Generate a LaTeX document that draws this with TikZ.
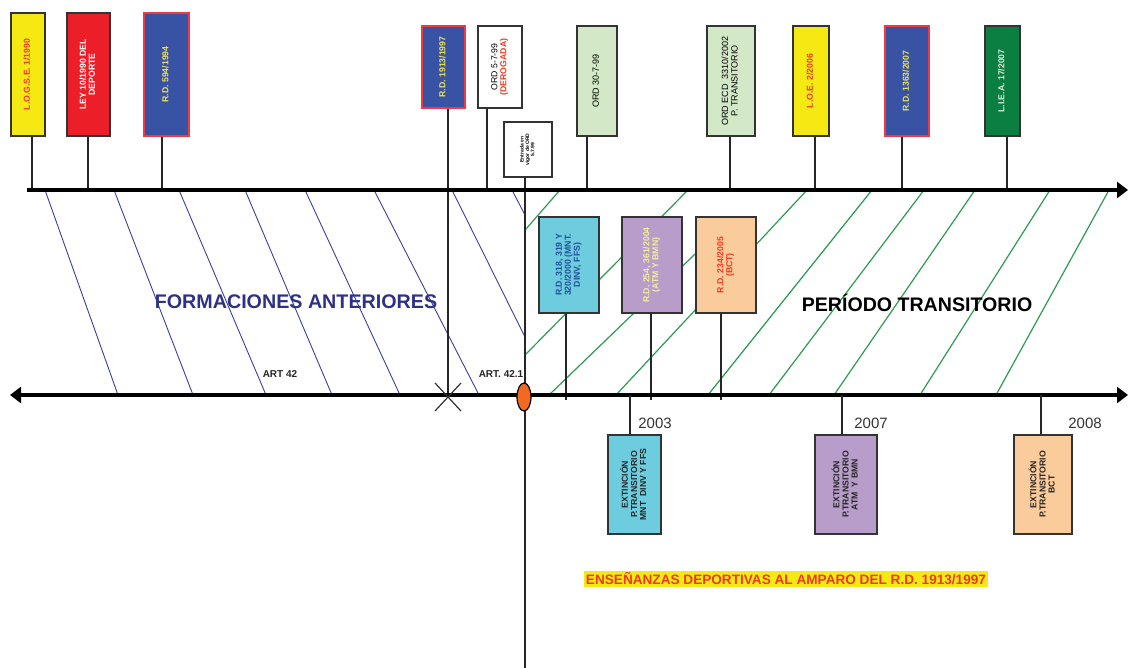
\documentclass[tikz,border=0pt]{standalone}
\usepackage{fontspec}
\setmainfont{Liberation Sans}
\usetikzlibrary{arrows.meta,calc}
\definecolor{cyel}{HTML}{F5E914}
\definecolor{cred}{HTML}{EC1F28}
\definecolor{cblue}{HTML}{3953A4}
\definecolor{cblueline}{HTML}{EE3A45}
\definecolor{cdgreen}{HTML}{0B7F41}
\definecolor{clgreen}{HTML}{D2E8C7}
\definecolor{ccyan}{HTML}{6DCCDD}
\definecolor{cpurple}{HTML}{B89CCA}
\definecolor{cpeach}{HTML}{FACB9B}
\definecolor{corange}{HTML}{F26A21}
\definecolor{tred}{HTML}{EE3A24}
\definecolor{tyel}{HTML}{EDE35A}
\definecolor{tpale}{HTML}{F3EE9E}
\definecolor{tblue}{HTML}{1F4F9C}
\definecolor{tnavy}{HTML}{2E3185}
\definecolor{hblue}{HTML}{3D4099}
\definecolor{hgreen}{HTML}{2E9B52}
\definecolor{boxline}{HTML}{333333}
\definecolor{tgreen}{HTML}{D9EFD9}
\newcommand{\vtxt}[1]{\rotatebox{90}{\begin{tabular}{@{}c@{}}#1\end{tabular}}}
\renewcommand{\arraystretch}{0.95}
\begin{document}
\begin{tikzpicture}[x=1pt,y=-1pt,
  box/.style={draw=boxline, line width=1.1pt, inner sep=0pt, align=center},
  bf/.style={font=\bfseries\fontsize{8.7}{9.5}\selectfont},
  rf/.style={font=\fontsize{9}{10}\selectfont},
  conn/.style={draw=black!85, line width=1.1pt},
  axis/.style={line width=3.6pt},
  hb/.style={draw=hblue, line width=0.9pt},
  hg/.style={draw=hgreen, line width=1.2pt},
  tip/.tip={Triangle[length=11pt,width=16pt]},
  year/.style={font=\fontsize{15}{16}\selectfont, text=black!80}]
\useasboundingbox (0,0) rectangle (1128,668);
\fill[white] (0,0) rectangle (1128,668);

% blue hatch (formaciones anteriores)
\draw[hb] (45,190) -- (118,395);
\draw[hb] (114,190) -- (193,395);
\draw[hb] (179,190) -- (266,395);
\draw[hb] (245,190) -- (332,395);
\draw[hb] (305,190) -- (400,395);
\draw[hb] (374,190) -- (479,395);
\draw[hb] (452,190) -- (525,337);
\draw[hb] (512,190) -- (525,215);

% green hatch (periodo transitorio)
\draw[hg] (526,229) -- (560,190);
\draw[hg] (526,354) -- (688,190);
\draw[hg] (549,395) -- (720,230);
\draw[hg] (616,395) -- (807,190);
\draw[hg] (708,395) -- (872,190);
\draw[hg] (769,395) -- (924,190);
\draw[hg] (834,395) -- (975,190);
\draw[hg] (920,395) -- (1050,190);
\draw[hg] (996,395) -- (1109,190);

% axis coordinates
\coordinate (a1) at (32,190);
\coordinate (a2) at (88,190);
\coordinate (a3) at (162,190);
\coordinate (a5) at (487,190);
\coordinate (a7) at (587,190);
\coordinate (a8) at (730,190);
\coordinate (a9) at (815,190);
\coordinate (a10) at (902,190);
\coordinate (a11) at (1007,190);
\coordinate (xm) at (448,397);
\coordinate (vend) at (525,668);
\coordinate (m1) at (566,400);
\coordinate (m2) at (651,400);
\coordinate (m3) at (721,400);
\coordinate (b1) at (630,395);
\coordinate (b2) at (842,395);
\coordinate (b3) at (1041,395);
\coordinate (tL) at (27,190);
\coordinate (tR) at (1128,190);
\coordinate (bL) at (10,395);
\coordinate (bR) at (1128,395);

% top boxes
\node[box, bf, fill=cyel, text=tred, minimum width=34pt, minimum height=123pt] (n1) at (28,74.5) {\vtxt{L.O.G.S.E. 1/1990}};
\node[box, bf, fill=cred, text=white, minimum width=43pt, minimum height=123pt] (n2) at (88.5,74.5) {\vtxt{LEY 10/1990 DEL\\DEPORTE}};
\node[box, bf, draw=cblueline, fill=cblue, text=tyel, minimum width=45pt, minimum height=123pt] (n3) at (166.5,74.5) {\vtxt{R.D. 594/1994}};
\node[box, bf, draw=cblueline, fill=cblue, text=tyel, minimum width=43pt, minimum height=82pt] (n4) at (443.5,67) {\vtxt{R.D. 1913/1997}};
\node[box, fill=white, minimum width=44pt, minimum height=82pt, font=\fontsize{8.7}{9.5}\selectfont] (n5) at (500,67) {\vtxt{ORD 5-7-99\\\textcolor{tred}{\bfseries (DEROGADA)}}};
\node[box, fill=white, minimum width=48pt, minimum height=55pt, font=\bfseries\fontsize{5}{5.6}\selectfont] (n6) at (528,149.5) {\vtxt{Entrada en\\vigor de ORD\\5.7.99}};
\node[box, rf, fill=clgreen, minimum width=40pt, minimum height=110pt] (n7) at (597,81) {\vtxt{ORD 30-7-99}};
\node[box, rf, fill=clgreen, minimum width=48pt, minimum height=110pt] (n8) at (731,81) {\vtxt{ORD ECD\ \ 3310/2002\\P. TRANSITORIO}};
\node[box, bf, fill=cyel, text=tred, minimum width=36pt, minimum height=110pt] (n9) at (811,81) {\vtxt{L.O.E. 2/2006}};
\node[box, bf, draw=cblueline, fill=cblue, text=tyel, minimum width=44pt, minimum height=110pt] (n10) at (907,81) {\vtxt{R.D. 1363/2007}};
\node[box, bf, fill=cdgreen, text=tgreen, minimum width=35pt, minimum height=110pt] (n11) at (1002.5,81) {\vtxt{L.I.E.A. 17/2007}};

% top connectors
\draw[conn] (n1.south -| a1) -- (a1);
\draw[conn] (n2.south -| a2) -- (a2);
\draw[conn] (n3.south -| a3) -- (a3);
\draw[conn] (n4.south -| xm) -- (xm);
\draw[conn] (n5.south -| a5) -- (a5);
\draw[conn] (n6.south -| vend) -- (vend);
\draw[conn] (n7.south -| a7) -- (a7);
\draw[conn] (n8.south -| a8) -- (a8);
\draw[conn] (n9.south -| a9) -- (a9);
\draw[conn] (n10.south -| a10) -- (a10);
\draw[conn] (n11.south -| a11) -- (a11);

% middle boxes
\node[box, bf, fill=ccyan, text=tblue, minimum width=60pt, minimum height=96pt] (c1) at (569,265) {\vtxt{R.D. 318, 319 Y\\320/2000 (MNT.\\DINV, FFS)}};
\node[box, bf, fill=cpurple, text=tpale, minimum width=60pt, minimum height=96pt] (c2) at (652,265) {\vtxt{R.D. 254, 361/2004\\(ATM Y BMN)}};
\node[box, bf, fill=cpeach, text=tred, minimum width=60pt, minimum height=96pt] (c3) at (726,265) {\vtxt{R.D. 234/2005\\(BCT)}};
\draw[conn] (c1.south -| m1) -- (m1);
\draw[conn] (c2.south -| m2) -- (m2);
\draw[conn] (c3.south -| m3) -- (m3);

% axes
\draw[axis, -{tip}] (tL) -- (tR);
\draw[axis, {tip}-{tip}] (bL) -- (bR);

% region labels
\node[font=\bfseries\fontsize{19.7}{22}\selectfont, text=tnavy] (fa) at (296,302) {FORMACIONES ANTERIORES};
\node[font=\bfseries\fontsize{19.6}{22}\selectfont, text=black] (pt) at (917,303) {PERÍODO TRANSITORIO};
\node[font=\bfseries\fontsize{10}{11}\selectfont, text=black!85] (art42) at (280,374) {ART 42};
\node[font=\bfseries\fontsize{10}{11}\selectfont, text=black!85] (art421) at (501,374) {ART. 42.1};

% X mark and ellipse
\draw[line width=1.2pt, black!80] ($(xm)+(-13,-14)$) -- ($(xm)+(13,14)$);
\draw[line width=1.2pt, black!80] ($(xm)+(-13,14)$) -- ($(xm)+(13,-14)$);
\draw[line width=1.2pt, fill=corange] (524,397) ellipse [x radius=7pt, y radius=14pt];

% bottom boxes
\node[box, bf, fill=ccyan, text=black!85, minimum width=53pt, minimum height=99pt] (e1) at (634.5,484.5) {\vtxt{EXTINCIÓN\\P.TRANSITORIO\\MNT\ \ DINV Y FFS}};
\node[box, bf, fill=cpurple, text=black!85, minimum width=62pt, minimum height=99pt] (e2) at (846,484.5) {\vtxt{EXTINCIÓN\\P.TRANSITORIO\\ATM\ \ Y BMN}};
\node[box, bf, fill=cpeach, text=black!85, minimum width=58pt, minimum height=99pt] (e3) at (1043,484.5) {\vtxt{EXTINCIÓN\\P.TRANSITORIO\\BCT}};
\draw[conn] (b1) -- (e1.north -| b1);
\draw[conn] (b2) -- (e2.north -| b2);
\draw[conn] (b3) -- (e3.north -| b3);
\node[year] (y1) at (655,423) {2003};
\node[year] (y2) at (871,423) {2007};
\node[year] (y3) at (1085,423) {2008};

% bottom caption
\node[fill=cyel, inner xsep=1.5pt, inner ysep=2pt, text=tred, font=\bfseries\fontsize{13.6}{15}\selectfont] (cap) at (786,579) {ENSEÑANZAS DEPORTIVAS AL AMPARO DEL R.D. 1913/1997};
\end{tikzpicture}
\end{document}
